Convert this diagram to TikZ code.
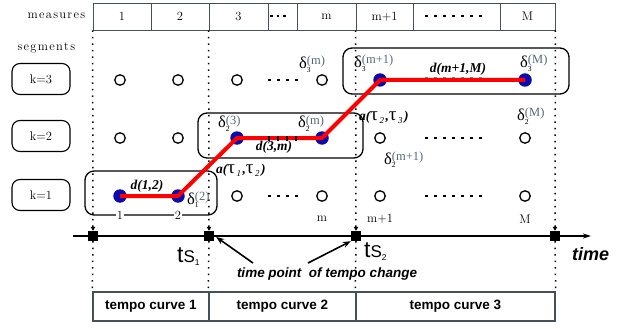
\documentclass[tikz,border=0pt]{standalone}
\usepackage{fontspec}
\setsansfont{Liberation Sans}
\newfontfamily\grk{Liberation Serif}
\usetikzlibrary{arrows.meta, calc, positioning}

\definecolor{supgrey}{RGB}{85,105,115}
\definecolor{segblue}{RGB}{10,10,175}
\definecolor{tabline}{RGB}{70,80,88}

% delta label: \dlt{sub}{sup}
\newcommand{\dlt}[2]{{\grk\fontsize{16.5}{16.5}\selectfont δ}\makebox[0pt][l]{\raisebox{-3.5pt}{\grk\fontsize{7.5}{7.5}\selectfont #1}}\raisebox{4pt}{\grk\fontsize{12.5}{12.5}\selectfont\color{supgrey}(#2)}}
% transition label a(tau_i,tau_j)
\newcommand{\bi}[1]{{\grk\bfseries\itshape\fontsize{13.5}{13.5}\selectfont #1}}
\newcommand{\tu}[1]{{\grk\fontsize{19}{19}\selectfont τ}\raisebox{-3pt}{\grk\itshape\fontsize{9}{9}\selectfont\,#1\,}}
\newcommand{\atau}[2]{\bi{a(}\tu{#1}\bi{,}\tu{#2}\bi{)}}
\newcommand{\tsp}[1]{{\sffamily\fontsize{23}{23}\selectfont t\fontsize{17}{17}\selectfont S\raisebox{-3pt}{\fontsize{8.5}{8.5}\selectfont #1}}}
\makeatletter
\newcommand{\lsp}[1]{\@tfor\lsp@c:=#1\do{\lsp@c\kern1.3pt}}
\makeatother

\begin{document}
\begin{tikzpicture}[x=1pt, y=-1pt, >=Stealth,
    lbl/.style={font=\fontsize{12.5}{14}\selectfont, inner sep=0pt},
    mcell/.style={draw=tabline, line width=0.8pt, minimum height=27pt, inner sep=0pt, font=\fontsize{12.5}{14}\selectfont},
    tcell/.style={draw=tabline, line width=1.4pt, minimum height=29pt, inner sep=0pt, font=\sffamily\bfseries\fontsize{13.5}{16}\selectfont},
    kbox/.style={draw, line width=1.1pt, rounded corners=8pt, minimum width=58pt, minimum height=31pt, font=\fontsize{12.5}{14}\selectfont},
    segbox/.style={draw, line width=1.3pt, rounded corners=9pt},
    emptypt/.style={circle, draw, line width=1.3pt, minimum size=10.5pt, inner sep=0pt},
    segpt/.style={circle, fill=segblue, minimum size=13.5pt, inner sep=0pt},
    tsq/.style={fill=black, minimum size=10pt, inner sep=0pt},
    vdot/.style={line width=1.5pt, dash pattern=on 1.5pt off 5pt},
    vdotarr/.style={vdot, -{Triangle[length=4pt, width=4.5pt]}},
    redroute/.style={red, line width=4pt, line join=round},
    rowdots/.style={line width=2.6pt, dash pattern=on 2.6pt off 6.4pt},
    dlbl/.style={inner sep=0pt, anchor=base west},
    dname/.style={inner sep=0pt, anchor=base, font=\grk\bfseries\itshape\fontsize{13.5}{13.5}\selectfont},
    tparrow/.style={line width=1.6pt, -{Stealth[length=8pt, width=6pt]}}]
\useasboundingbox (0,0) rectangle (632,329);

% measures row
\node[lbl] (meas) at (57,16) {\lsp{measures}};
\foreach \nm/\xa/\xb/\txt in {mc1/93/151/1, mc2/151/209/2, mc3/209/268/3, mc4/268/297/{}, mc5/297/356/m, mc6/356/413/m+1, mc7/413/500/{}, mc8/500/555/M}
    \node[mcell, minimum width={(\xb-\xa)*1pt}] (\nm) at ({(\xa+\xb)/2},16.5) {\txt};
\draw[rowdots, dash pattern=on 2.5pt off 4.2pt] (270,16) -- (287,16);
\draw[rowdots] (425,16) -- (482,16);

% time axis and change points
\coordinate (t0) at (73,236);
\coordinate (t1) at (591,236);
\draw[line width=1.5pt, -{Stealth[length=8pt, width=5pt]}] (t0) -- (t1);
\node[tsq] (q1) at (93,236) {};
\node[tsq] (q2) at (209,236) {};
\node[tsq] (q3) at (356,236) {};
\node[tsq] (q4) at (555,236) {};

% tempo curves
\node[tcell, minimum width=116pt] (tc1) at (151,306.5) {tempo curve 1};
\node[tcell, minimum width=147pt] (tc2) at (282.5,306.5) {tempo curve 2};
\node[tcell, minimum width=199pt] (tc3) at (455.5,306.5) {tempo curve 3};

\draw[vdotarr] (mc1.south west) -- (q1.north);
\draw[vdotarr] (mc3.south west) -- (q2.north);
\draw[vdotarr] (mc6.south west) -- (q3.north);
\draw[vdotarr] (mc8.south east) -- (q4.north);
\draw[vdot] (q1.south) -- (tc1.north west);
\draw[vdot] (q2.south) -- (tc2.north west);
\draw[vdot] (q3.south) -- (tc3.north west);
\draw[vdot] (q4.south) -- (tc3.north east);

% segments
\node[lbl] (segs) at (47,48) {\lsp{segments}};
\node[kbox] (k3) at (41,79) {k=3};
\node[kbox] (k2) at (41,136) {k=2};
\node[kbox] (k1) at (41,195) {k=1};
\draw[segbox] (85,171) rectangle (217,215);
\draw[segbox] (198,113) rectangle (363,158);
\draw[segbox] (343,48) rectangle (569,94);
\node[lbl, fill=white, inner sep=1pt] (b1) at (120,215) {1};
\node[lbl, fill=white, inner sep=1pt] (b2) at (178,215) {2};

% dots between columns
\draw[rowdots] (268,80) -- (298,80);
\draw[rowdots] (268,196) -- (298,196);
\draw[rowdots] (425,138) -- (482,138);
\draw[rowdots] (425,196) -- (482,196);
\draw[rowdots, gray, line width=5pt] (425,80) -- (482,80);

% k=3
\node[emptypt] (o31) at (120,80) {};
\node[emptypt] (o32) at (178,80) {};
\node[emptypt] (o33) at (237,80) {};
\node[emptypt] (o3m) at (322,80) {};
\node[segpt] (p3m1) at (380,80) {};
\node[segpt] (p3M) at (525,80) {};
% k=2
\node[emptypt] (o21) at (120,138) {};
\node[emptypt] (o22) at (178,138) {};
\node[segpt] (p23) at (237,138) {};
\node[segpt] (p2m) at (322,138) {};
\node[emptypt] (o2m1) at (380,138) {};
\node[emptypt] (o2M) at (525,138) {};
% k=1
\node[segpt] (p11) at (120,196) {};
\node[segpt] (p12) at (178,196) {};
\node[emptypt] (o13) at (237,196) {};
\node[emptypt] (o1m) at (322,196) {};
\node[emptypt] (o1m1) at (380,196) {};
\node[emptypt] (o1M) at (525,196) {};

\draw[redroute] (p11.center) -- (p12.center) -- (p23.center) -- (p2m.center) -- (p3m1.center) -- (p3M.center);
\draw[rowdots, line width=5pt, dash pattern=on 2pt off 7pt] (268,138) -- (298,138);

\node[lbl] (lm) at (322,219) {m};
\node[lbl] (lm1) at (380,219) {m+1};
\node[lbl] (lM) at (525,219) {M};

% labels
\node[dlbl] (d3m) at (299,69) {\dlt{3}{m}};
\node[dlbl] (d3m1) at (354,68) {\dlt{3}{m+1}};
\node[dlbl] (d3M) at (520,68) {\dlt{3}{M}};
\node[dlbl] (d23) at (218,128) {\dlt{2}{3}};
\node[dlbl] (d2m) at (298,128) {\dlt{2}{m}};
\node[dlbl] (d2M) at (517,121) {\dlt{2}{M}};
\node[dlbl] (d2m1) at (384,164) {\dlt{2}{m+1}};
\node[dlbl] (d12) at (187,204) {\dlt{1}{2}};
\node[dname] (w12) at (147,189) {d(1,2)};
\node[dname] (w3m) at (274,150) {d(3,m)};
\node[dname] (w3M) at (458,73) {d(m+1,M)};
\node[dlbl] (a12) at (216,173) {\atau{1}{2}};
\node[dlbl] (a23) at (359,120) {\atau{2}{3}};

\node[dlbl] (ts1) at (177,262) {\tsp{1}};
\node[dlbl] (ts2) at (364,257) {\tsp{2}};
\node[dlbl, font=\sffamily\bfseries\itshape\fontsize{18}{18}\selectfont] (tlbl) at (572,260) {time};
\node[inner sep=0pt, anchor=base, font=\sffamily\bfseries\itshape\fontsize{13.5}{13.5}\selectfont] (tp) at (327,277) {time point\ \ of tempo change};
\draw[tparrow] ([shift={(-74pt,4pt)}]tp.north) -- ([shift={(2pt,-1pt)}]q2.east);
\draw[tparrow] ([shift={(-19pt,4pt)}]tp.north) -- (q3.south west);
\end{tikzpicture}
\end{document}
